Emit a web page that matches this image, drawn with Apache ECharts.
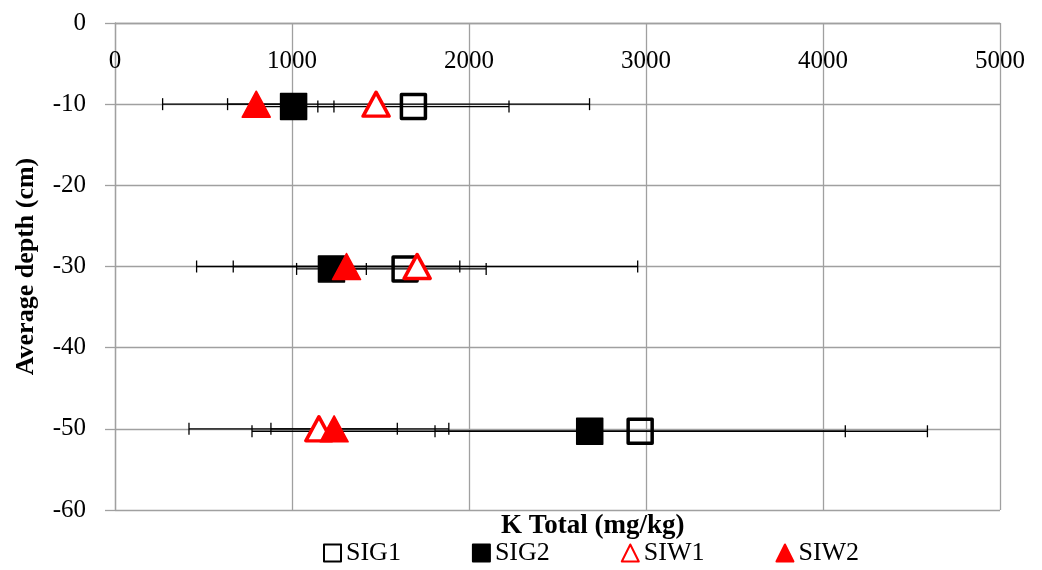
<!DOCTYPE html>
<html>
<head>
<meta charset="utf-8">
<script src="https://cdn.jsdelivr.net/npm/echarts@6/dist/echarts.min.js"></script>
<style>html,body{margin:0;padding:0;background:#fff;}#c{width:1042px;height:570px;}</style>
</head>
<body>
<div id="c"></div>
<script>
// ---- data ----
const seriesNames = ['SIG1', 'SIG2', 'SIW1', 'SIW2'];
const depthSIG = [-10.3, -30.3, -50.3];
const depthSIW = [-10, -30, -50];
const sig1Mean = [1686, 1639, 2967];
const sig1Err  = [540, 458, 1159];
const sig2Mean = [1009, 1223, 2682];
const sig2Err  = [228, 197, 1908];
const siw1Mean = [1475, 1707, 1152];
const siw1Err  = [1206, 1246, 734];
const siw2Mean = [798, 1308, 1238];
const siw2Err  = [162, 640, 357];
const xTicks = [0, 1000, 2000, 3000, 4000, 5000];
const yTicks = [0, -10, -20, -30, -40, -50, -60];

const FONT = '"Liberation Serif", "Times New Roman", serif';

function pts(mean, depth) { return mean.map((m, i) => [m, depth[i]]); }
function errs(mean, err, depth) { return mean.map((m, i) => [m, depth[i], m - err[i], m + err[i]]); }

function errSeries(data) {
  return {
    type: 'custom',
    silent: true,
    z: 1,
    encode: { x: [0, 2, 3], y: 1 },
    data: data,
    renderItem: function (params, api) {
      const y = api.value(1);
      const lo = api.coord([api.value(2), y]);
      const hi = api.coord([api.value(3), y]);
      const c = 6;
      const st = { stroke: '#000', lineWidth: 1.3 };
      return {
        type: 'group',
        children: [
          { type: 'line', shape: { x1: lo[0], y1: lo[1], x2: hi[0], y2: hi[1] }, style: st },
          { type: 'line', shape: { x1: lo[0], y1: lo[1] - c, x2: lo[0], y2: lo[1] + c }, style: st },
          { type: 'line', shape: { x1: hi[0], y1: hi[1] - c, x2: hi[0], y2: hi[1] + c }, style: st }
        ]
      };
    }
  };
}

const chart = echarts.init(document.getElementById('c'), null, { renderer: 'canvas' });
chart.setOption({
  animation: false,
  backgroundColor: '#fff',
  textStyle: { fontFamily: FONT },
  grid: { left: 115, right: 42, top: 23, bottom: 60, containLabel: false, outerBoundsMode: 'none' },
  xAxis: {
    type: 'value', position: 'top', min: xTicks[0], max: xTicks[xTicks.length - 1], interval: 1000,
    axisLine: { show: true, lineStyle: { color: '#a0a0a0', width: 1.3 } },
    axisTick: { show: false },
    axisLabel: { inside: true, margin: 26, fontSize: 25, color: '#000', fontFamily: FONT,
      formatter: function (v) { return String(v); } },
    splitLine: { show: true, lineStyle: { color: '#a0a0a0', width: 1.3 } }
  },
  yAxis: {
    type: 'value', min: yTicks[yTicks.length - 1], max: yTicks[0], interval: 10,
    name: 'Average depth (cm)', nameLocation: 'middle', nameGap: 76,
    nameTextStyle: { fontSize: 26, fontWeight: 'bold', color: '#000', fontFamily: FONT },
    axisLine: { show: true, lineStyle: { color: '#a0a0a0', width: 1.3 } },
    axisTick: { show: true, length: 10, lineStyle: { color: '#a0a0a0', width: 1.3 } },
    axisLabel: { margin: 29, fontSize: 25, color: '#000', fontFamily: FONT,
      formatter: function (v) { return String(v); } },
    splitLine: { show: true, lineStyle: { color: '#a0a0a0', width: 1.3 } }
  },
  legend: {
    data: seriesNames,
    left: 323, top: 540, padding: 0,
    itemWidth: 17, itemHeight: 17, itemGap: 71,
    textStyle: { fontSize: 26, color: '#000', fontFamily: FONT, padding: [0, 0, 0, 0] }
  },
  graphic: [{
    type: 'text', left: 501, top: 513,
    style: { text: 'K Total (mg/kg)', font: 'bold 27px ' + FONT, fill: '#000' }
  }],
  series: [
    errSeries(errs(sig1Mean, sig1Err, depthSIG)),
    errSeries(errs(sig2Mean, sig2Err, depthSIG)),
    errSeries(errs(siw1Mean, siw1Err, depthSIW)),
    errSeries(errs(siw2Mean, siw2Err, depthSIW)),
    {
      name: 'SIG1', type: 'scatter', z: 3, symbol: 'rect', symbolSize: 24,
      itemStyle: { color: 'rgba(255,255,255,0)', borderColor: '#000', borderWidth: 3.5, borderJoin: 'round', opacity: 1 },
      data: pts(sig1Mean, depthSIG)
    },
    {
      name: 'SIG2', type: 'scatter', z: 3, symbol: 'rect', symbolSize: 26,
      itemStyle: { color: '#000', borderColor: '#000', borderWidth: 1.5, borderJoin: 'round', opacity: 1 },
      data: pts(sig2Mean, depthSIG)
    },
    {
      name: 'SIW1', type: 'scatter', z: 4, symbol: 'triangle', symbolSize: [26, 24],
      itemStyle: { color: '#fff', borderColor: '#ff0000', borderWidth: 3.5, borderJoin: 'round', opacity: 1 },
      data: pts(siw1Mean, depthSIW)
    },
    {
      name: 'SIW2', type: 'scatter', z: 4, symbol: 'triangle', symbolSize: [28, 26],
      itemStyle: { color: '#ff0000', borderColor: '#ff0000', borderWidth: 1.5, borderJoin: 'round', opacity: 1 },
      data: pts(siw2Mean, depthSIW)
    }
  ]
});
</script>
</body>
</html>
